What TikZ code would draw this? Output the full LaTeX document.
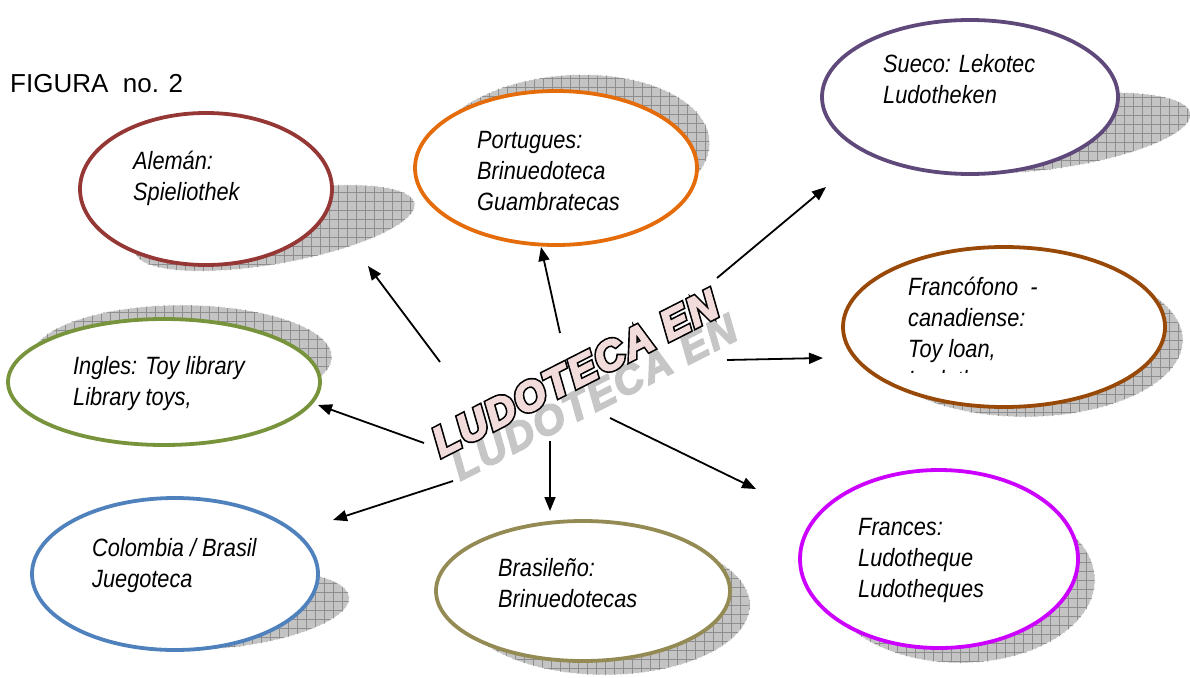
\documentclass[tikz,border=0pt]{standalone}
\usepackage{fontspec}
\setmainfont{Liberation Sans}
\newfontfamily\narrowsans[FakeStretch=0.87]{Liberation Sans}
\newfontfamily\titlerim[BoldItalicFeatures={FakeBold=12,LetterSpace=5}]{Liberation Sans}
\newfontfamily\titleface[BoldItalicFeatures={FakeBold=4,LetterSpace=5}]{Liberation Sans}
\usetikzlibrary{shapes.geometric,arrows.meta}

\definecolor{cAle}{HTML}{953735}
\definecolor{cPor}{HTML}{E46C0A}
\definecolor{cSue}{HTML}{5F497A}
\definecolor{cFra}{HTML}{984807}
\definecolor{cIng}{HTML}{77933C}
\definecolor{cCol}{HTML}{4F81BD}
\definecolor{cBra}{HTML}{948A54}
\definecolor{cFrs}{HTML}{CC00FF}
\definecolor{shadowgray}{HTML}{C4C4C4}
\definecolor{gridgray}{HTML}{8E8E8E}
\definecolor{wordpink}{HTML}{F2DCDB}

% hatched drop shadow: centre x, centre y, x radius, y radius, angle
\newcommand\hatchshadow[5]{%
  \begin{scope}[shift={(#1,#2)}, rotate=#5]
    \fill[shadowgray] (0,0) ellipse [x radius=#3pt, y radius=#4pt];
    \begin{scope}
      \clip (0,0) ellipse [x radius=#3pt, y radius=#4pt];
      \draw[gridgray, line width=0.5pt, step=9pt, rotate=-#5]
        (-#3pt-20pt,-#3pt-20pt) grid (#3pt+20pt,#3pt+20pt);
    \end{scope}
    \draw[white, line width=0.7pt, dash pattern=on 4pt off 1.5pt]
      (0,0) ellipse [x radius=#3pt, y radius=#4pt];
  \end{scope}}

\tikzset{
  bubble/.style={ellipse, draw, line width=3.8pt, fill=white, inner sep=0pt},
  bubbletext/.style={anchor=base west, align=left, inner sep=0pt,
    font=\narrowsans\itshape\fontsize{25}{31}\selectfont},
  link/.style={line width=1.8pt, -{Triangle[length=14pt,width=11pt]}},
  wordart/.style={rotate=27, inner sep=0pt},
}

\begin{document}
\begin{tikzpicture}[x=1pt, y=-1pt]
\useasboundingbox (0,0) rectangle (1190,677);

% drop shadows behind the bubbles
\hatchshadow{275}{228}{142}{36}{10}
\hatchshadow{570}{150}{140}{75}{4}
\hatchshadow{1052}{133}{140}{36}{8}
\hatchshadow{182}{357}{150}{52}{0}
\hatchshadow{1025}{340}{158}{77}{0}
\hatchshadow{225}{610}{125}{38}{6}
\hatchshadow{605}{605}{145}{70}{0}
\hatchshadow{960}{580}{135}{83}{0}

% bubbles
\node[bubble, draw=cAle, minimum width=252pt, minimum height=152pt] (ale) at (206,189) {};
\node[bubble, draw=cPor, minimum width=282pt, minimum height=154pt] (por) at (556,168) {};
\node[bubble, draw=cSue, minimum width=296pt, minimum height=154pt] (sue) at (970,97) {};
\node[bubble, draw=cFra, minimum width=322pt, minimum height=160pt] (fra) at (1004,327) {};
\node[bubble, draw=cIng, minimum width=312pt, minimum height=126pt] (ing) at (164,382) {};
\node[bubble, draw=cCol, minimum width=286pt, minimum height=152pt] (col) at (175,574) {};
\node[bubble, draw=cBra, minimum width=294pt, minimum height=140pt] (bra) at (583,591) {};
\node[bubble, draw=cFrs, minimum width=278pt, minimum height=178pt] (frs) at (939,559) {};

% bubble texts (anchored at the baseline of their last line)
\node[bubbletext] (aleT) at (133,200) {Alemán:\\Spieliothek};
\node[bubbletext] (porT) at (477,210) {Portugues:\\Brinuedoteca\\Guambratecas};
\node[bubbletext] (sueT) at (883,103) {Sueco: Lekotec\\Ludotheken};
\begin{scope}
  \clip (843,250) rectangle (1165,372);
  \node[bubbletext] (fraT) at (908,388) {Francófono~~-\\canadiense:\\Toy loan,\\Ludotheque};
\end{scope}
\node[bubbletext] (ingT) at (73,405) {Ingles: Toy library\\Library toys,};
\node[bubbletext] (colT) at (92,587) {Colombia / Brasil\\Juegoteca};
\node[bubbletext] (braT) at (498,607) {Brasileño:\\Brinuedotecas};
\node[bubbletext] (frsT) at (858,597) {Frances:\\Ludotheque\\Ludotheques};

% caption
\node[anchor=base west, inner sep=0pt, font=\fontsize{26}{30}\selectfont] (fig) at (10,92) {FIGURA\ \ no. 2};

% central title: grey shadow, black rim, pink face
\node[wordart, text=gray!45, font=\titleface\fontsize{41}{41}\selectfont\bfseries\itshape] (titleShadow) at (594,397) {LUDOTECA EN};
\node[wordart, text=black, font=\titlerim\fontsize{41}{41}\selectfont\bfseries\itshape] (titleRim) at (575,373) {LUDOTECA EN};
\node[wordart, text=wordpink, font=\titleface\fontsize{41}{41}\selectfont\bfseries\itshape] (title) at (575,373) {LUDOTECA EN};

% arrow end points
\coordinate (sAle) at (440,362); \coordinate (eAle) at (368,266);
\coordinate (sPor) at (560,333); \coordinate (ePor) at (541,247);
\coordinate (sSue) at (717,278); \coordinate (eSue) at (826,187);
\coordinate (sFra) at (727,360); \coordinate (eFra) at (823,358);
\coordinate (sIng) at (424,443); \coordinate (eIng) at (318,405);
\coordinate (sCol) at (453,481); \coordinate (eCol) at (333,520);
\coordinate (sBra) at (550,441); \coordinate (eBra) at (550,511);
\coordinate (sFrs) at (610,418); \coordinate (eFrs) at (756,489);

\draw[link] (sAle) -- (eAle);
\draw[link] (sPor) -- (ePor);
\draw[link] (sSue) -- (eSue);
\draw[link] (sFra) -- (eFra);
\draw[link] (sIng) -- (eIng);
\draw[link] (sCol) -- (eCol);
\draw[link] (sBra) -- (eBra);
\draw[link] (sFrs) -- (eFrs);
\end{tikzpicture}
\end{document}
